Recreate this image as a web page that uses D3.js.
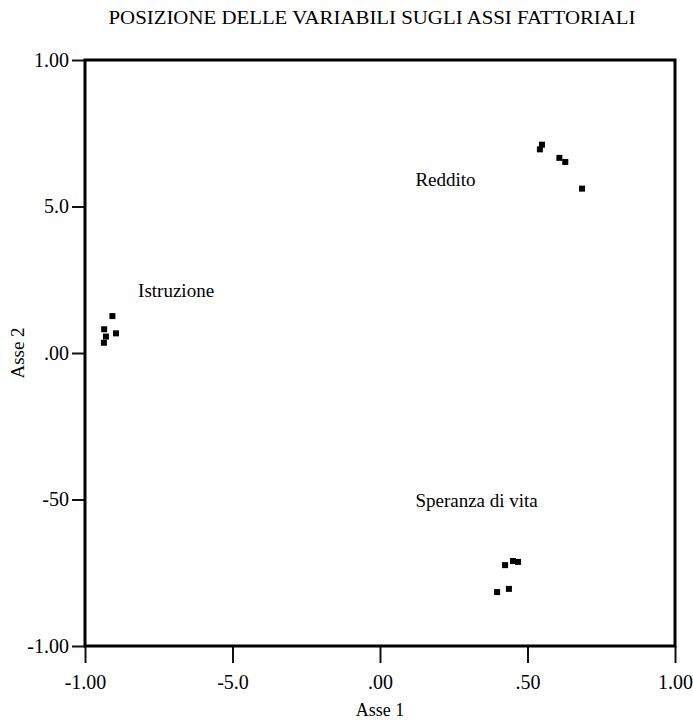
<!DOCTYPE html>
<html>
<head>
<meta charset="utf-8">
<script src="https://cdn.jsdelivr.net/npm/d3@7/dist/d3.min.js"></script>
<style>
  body { margin: 0; background: #fff; }
  text { font-family: "Liberation Serif", "DejaVu Serif", serif; fill: #000; }
</style>
</head>
<body>
<div class="grafico"></div>
<script>
const width = 693, height = 722;
const margin = { top: 60, right: 18, bottom: 76, left: 85 };

// valori
const tickValues = [-1, -0.5, 0, 0.5, 1];
const xTickLabels = ["-1.00", "-5.0", ".00", ".50", "1.00"];
const yTickLabels = ["-1.00", "-50", ".00", "5.0", "1.00"];

const groups = ["Istruzione", "Reddito", "Speranza di vita"];
const asse1 = [
  [-0.907, -0.935, -0.895, -0.929, -0.936],
  [0.549, 0.542, 0.608, 0.628, 0.685],
  [0.424, 0.451, 0.468, 0.437, 0.397]
];
const asse2 = [
  [0.126, 0.081, 0.067, 0.056, 0.035],
  [0.711, 0.695, 0.666, 0.652, 0.561],
  [-0.724, -0.710, -0.713, -0.805, -0.816]
];
// posizione delle etichette dei gruppi (coordinate dati)
const labelX = [-0.82, 0.12, 0.12];
const labelY = [0.19, 0.57, -0.525];

const innerW = width - margin.left - margin.right;
const innerH = height - margin.top - margin.bottom;

const svg = d3.select(".grafico")
  .append("svg")
  .attr("width", width)
  .attr("height", height);

const g = svg.append("g")
  .attr("transform", `translate(${margin.left}, ${margin.top})`);

const x = d3.scaleLinear().domain([-1, 1]).range([0, innerW]);
const y = d3.scaleLinear().domain([-1, 1]).range([innerH, 0]);

svg.append("text")
  .attr("x", 372)
  .attr("y", 24)
  .attr("text-anchor", "middle")
  .attr("textLength", 527)
  .attr("lengthAdjust", "spacingAndGlyphs")
  .style("font-size", "19px")
  .text("POSIZIONE DELLE VARIABILI SUGLI ASSI FATTORIALI");

const xAxis = g.append("g")
  .attr("transform", `translate(0, ${innerH})`)
  .call(d3.axisBottom(x)
    .tickValues(tickValues)
    .tickSize(17)
    .tickPadding(12)
    .tickFormat((d, i) => xTickLabels[i]));

const yAxis = g.append("g")
  .call(d3.axisLeft(y)
    .tickValues(tickValues)
    .tickSize(13)
    .tickPadding(3)
    .tickFormat((d, i) => yTickLabels[i]));

[xAxis, yAxis].forEach(a => {
  a.select(".domain").remove();
  a.selectAll(".tick line").attr("stroke", "#111").attr("stroke-width", 2);
  a.selectAll(".tick text")
    .style("font-family", "'Liberation Serif', serif")
    .style("font-size", "20px")
    .attr("fill", "#000");
});

g.append("rect")
  .attr("width", innerW)
  .attr("height", innerH)
  .attr("fill", "none")
  .attr("stroke", "#000")
  .attr("stroke-width", 3);

groups.forEach((name, k) => {
  g.selectAll(".pt" + k)
    .data(asse1[k].map((v, i) => [v, asse2[k][i]]))
    .enter().append("rect")
    .attr("x", d => x(d[0]) - 3)
    .attr("y", d => y(d[1]) - 3)
    .attr("width", 6)
    .attr("height", 6)
    .attr("fill", "#000");

  g.append("text")
    .attr("x", x(labelX[k]))
    .attr("y", y(labelY[k]))
    .style("font-size", "19px")
    .text(name);
});

svg.append("text")
  .attr("x", margin.left + innerW / 2)
  .attr("y", 716)
  .attr("text-anchor", "middle")
  .style("font-size", "18px")
  .text("Asse 1");

svg.append("text")
  .attr("transform", `translate(24, ${margin.top + innerH / 2}) rotate(-90)`)
  .attr("text-anchor", "middle")
  .style("font-size", "19px")
  .text("Asse 2");
</script>
</body>
</html>
